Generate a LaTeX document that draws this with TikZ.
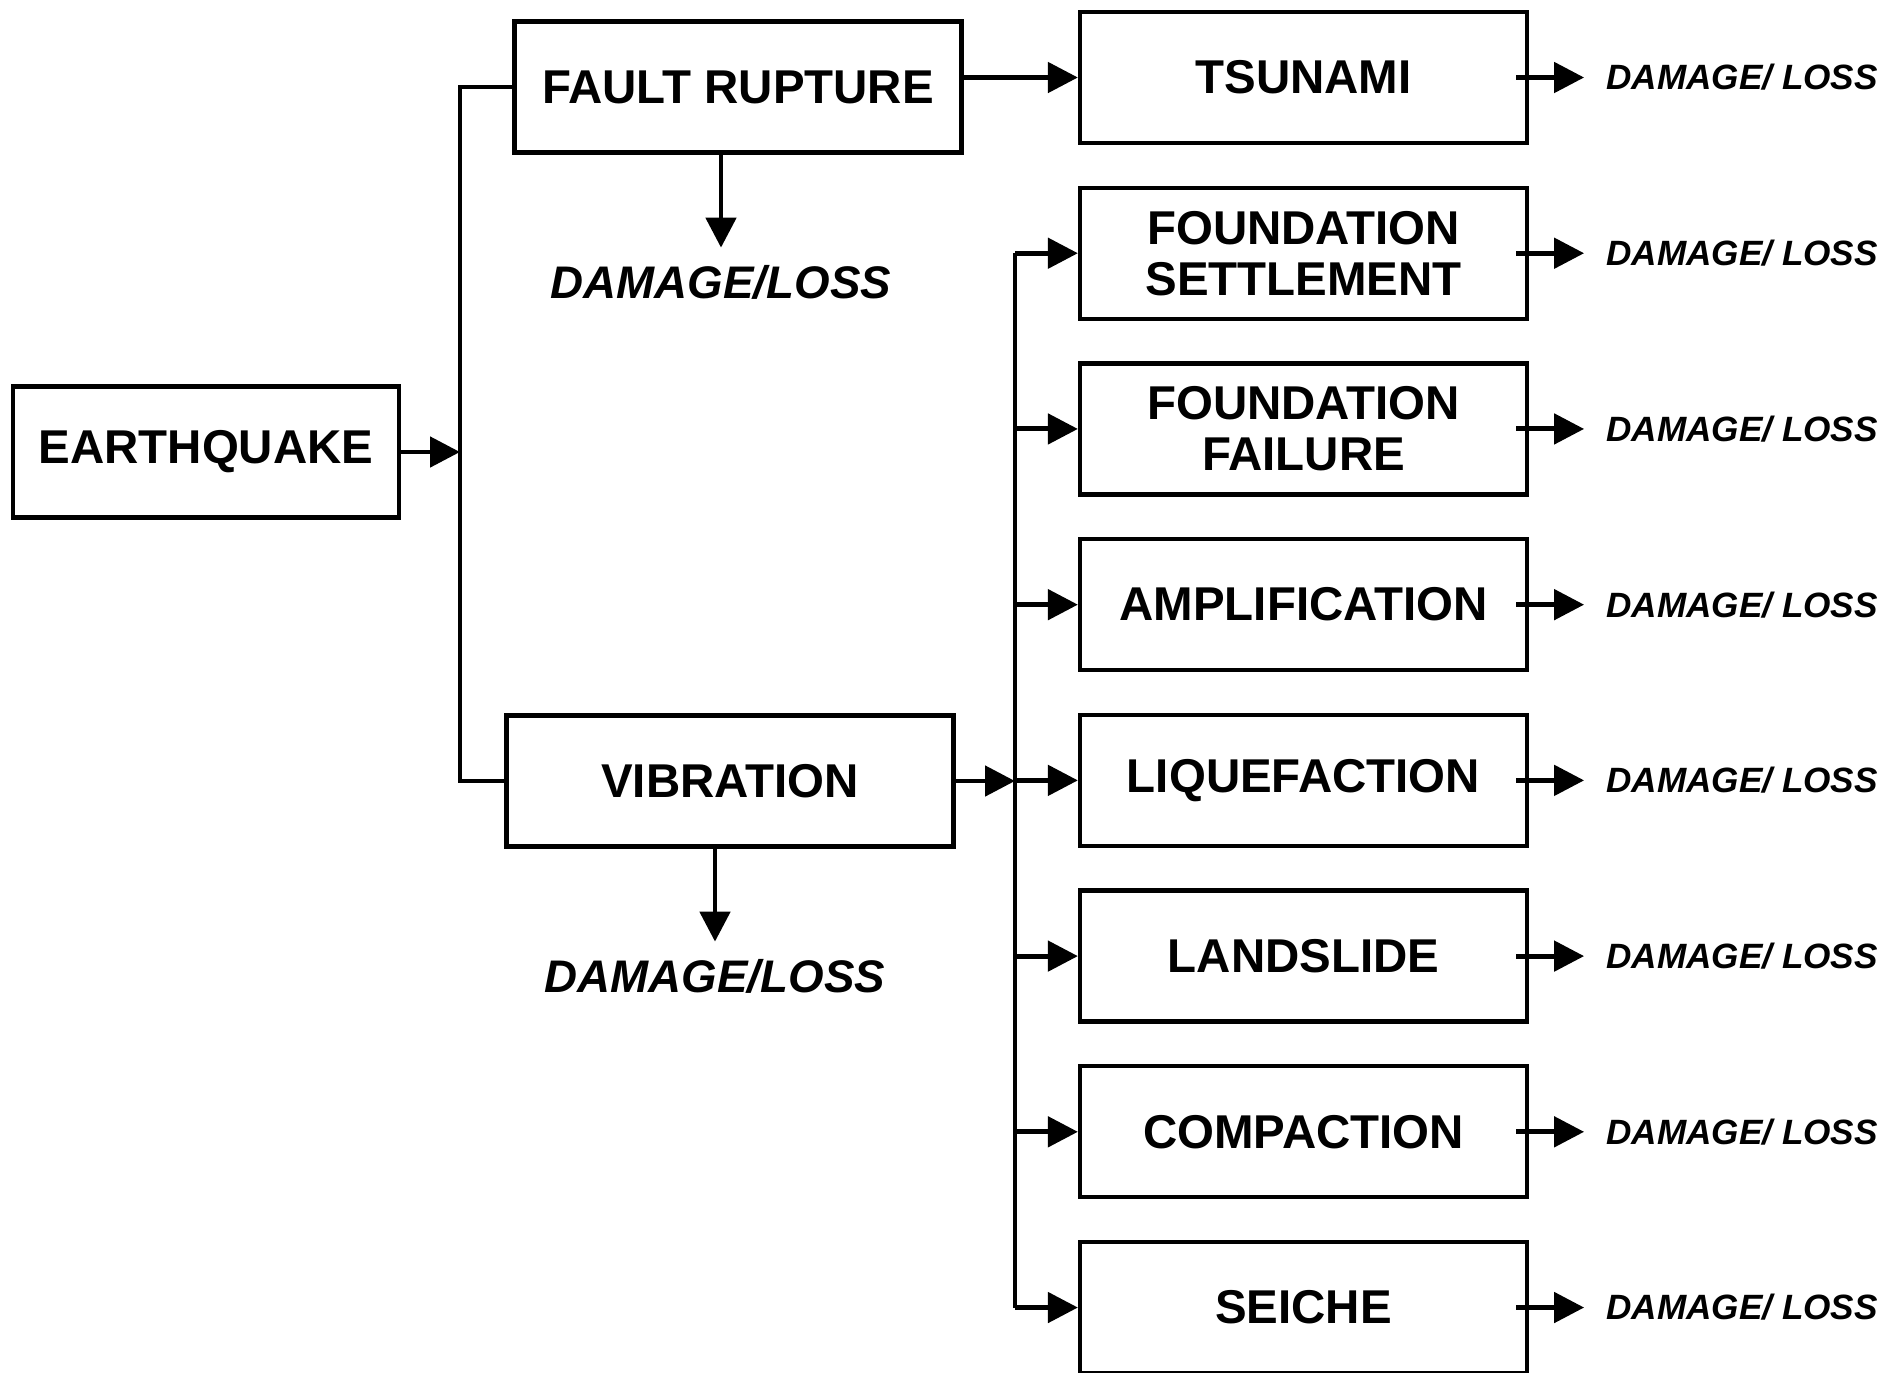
\documentclass[tikz,border=0pt]{standalone}
\usepackage{fontspec}
\setmainfont{Liberation Sans}
\usepackage{tikz}
\usetikzlibrary{arrows.meta,positioning,calc}

\begin{document}
\begin{tikzpicture}[
    box/.style={draw, line width=2.4pt, align=center, inner sep=0pt,
                minimum width=89.4mm, minimum height=26.2mm,
                font=\fontsize{27}{29}\selectfont\bfseries},
    dmgr/.style={inner xsep=4.4mm, inner ysep=0pt,
                 font=\fontsize{20}{22}\selectfont\bfseries\itshape},
    dmgb/.style={inner sep=3.4mm, font=\fontsize{26}{28}\selectfont\bfseries\itshape},
    conn/.style={line width=2.8pt},
    arr/.style={conn, -{Triangle[length=6mm, width=6mm]}},
    ]
\useasboundingbox (0,0) rectangle (37.98,-27.44);

\coordinate (t1) at (9.2,0);
\coordinate (t2) at (20.3,0);

\node[box, minimum width=77.2mm] (eq) at (4.12,-9.04) {EARTHQUAKE};
\node[box] (fr) at (14.76,-1.74) {FAULT RUPTURE};
\node[box] (vib) at (14.6,-15.62) {VIBRATION};
\node[dmgb, below=18.6mm of fr, xshift=-3.4mm] (dfr) {DAMAGE/LOSS};
\node[dmgb, below=18.6mm of vib, xshift=-3mm] (dvib) {DAMAGE/LOSS};

\node[box] (ts) at (26.07,-1.55) {TSUNAMI};
\node[box, below=8.1mm of ts] (fs) {FOUNDATION\\SETTLEMENT};
\node[box, below=8.1mm of fs] (ff) {FOUNDATION\\FAILURE};
\node[box, below=8.1mm of ff] (amp) {AMPLIFICATION};
\node[box, below=8.1mm of amp] (liq) {LIQUEFACTION};
\node[box, below=8.1mm of liq] (ls) {LANDSLIDE};
\node[box, below=8.1mm of ls] (comp) {COMPACTION};
\node[box, below=8.1mm of comp] (sei) {SEICHE};

\node[dmgr, right=11mm of ts] (dts) {DAMAGE/ LOSS};
\node[dmgr, right=11mm of fs] (dfs) {DAMAGE/ LOSS};
\node[dmgr, right=11mm of ff] (dff) {DAMAGE/ LOSS};
\node[dmgr, right=11mm of amp] (damp) {DAMAGE/ LOSS};
\node[dmgr, right=11mm of liq] (dliq) {DAMAGE/ LOSS};
\node[dmgr, right=11mm of ls] (dls) {DAMAGE/ LOSS};
\node[dmgr, right=11mm of comp] (dcomp) {DAMAGE/ LOSS};
\node[dmgr, right=11mm of sei] (dsei) {DAMAGE/ LOSS};

\draw[conn] (fr.west) -- (fr.west -| t1) -- (vib.west -| t1) -- (vib.west);
\draw[arr] (eq.east) -- (eq.east -| t1);
\draw[arr] (fr.east |- ts) -- (ts.west);
\draw[arr] (fr.south -| dfr) -- (dfr.north);
\draw[arr] (vib.south -| dvib) -- (dvib.north);
\draw[arr] (vib.east) -- (vib.east -| t2);

\draw[conn] (fs.west -| t2) -- (sei.west -| t2);
\draw[arr] (fs.west -| t2) -- (fs.west);
\draw[arr] (ff.west -| t2) -- (ff.west);
\draw[arr] (amp.west -| t2) -- (amp.west);
\draw[arr] (liq.west -| t2) -- (liq.west);
\draw[arr] (ls.west -| t2) -- (ls.west);
\draw[arr] (comp.west -| t2) -- (comp.west);
\draw[arr] (sei.west -| t2) -- (sei.west);

\draw[arr] ([xshift=-2.6mm]ts.east) -- (dts.west);
\draw[arr] ([xshift=-2.6mm]fs.east) -- (dfs.west);
\draw[arr] ([xshift=-2.6mm]ff.east) -- (dff.west);
\draw[arr] ([xshift=-2.6mm]amp.east) -- (damp.west);
\draw[arr] ([xshift=-2.6mm]liq.east) -- (dliq.west);
\draw[arr] ([xshift=-2.6mm]ls.east) -- (dls.west);
\draw[arr] ([xshift=-2.6mm]comp.east) -- (dcomp.west);
\draw[arr] ([xshift=-2.6mm]sei.east) -- (dsei.west);
\end{tikzpicture}
\end{document}
